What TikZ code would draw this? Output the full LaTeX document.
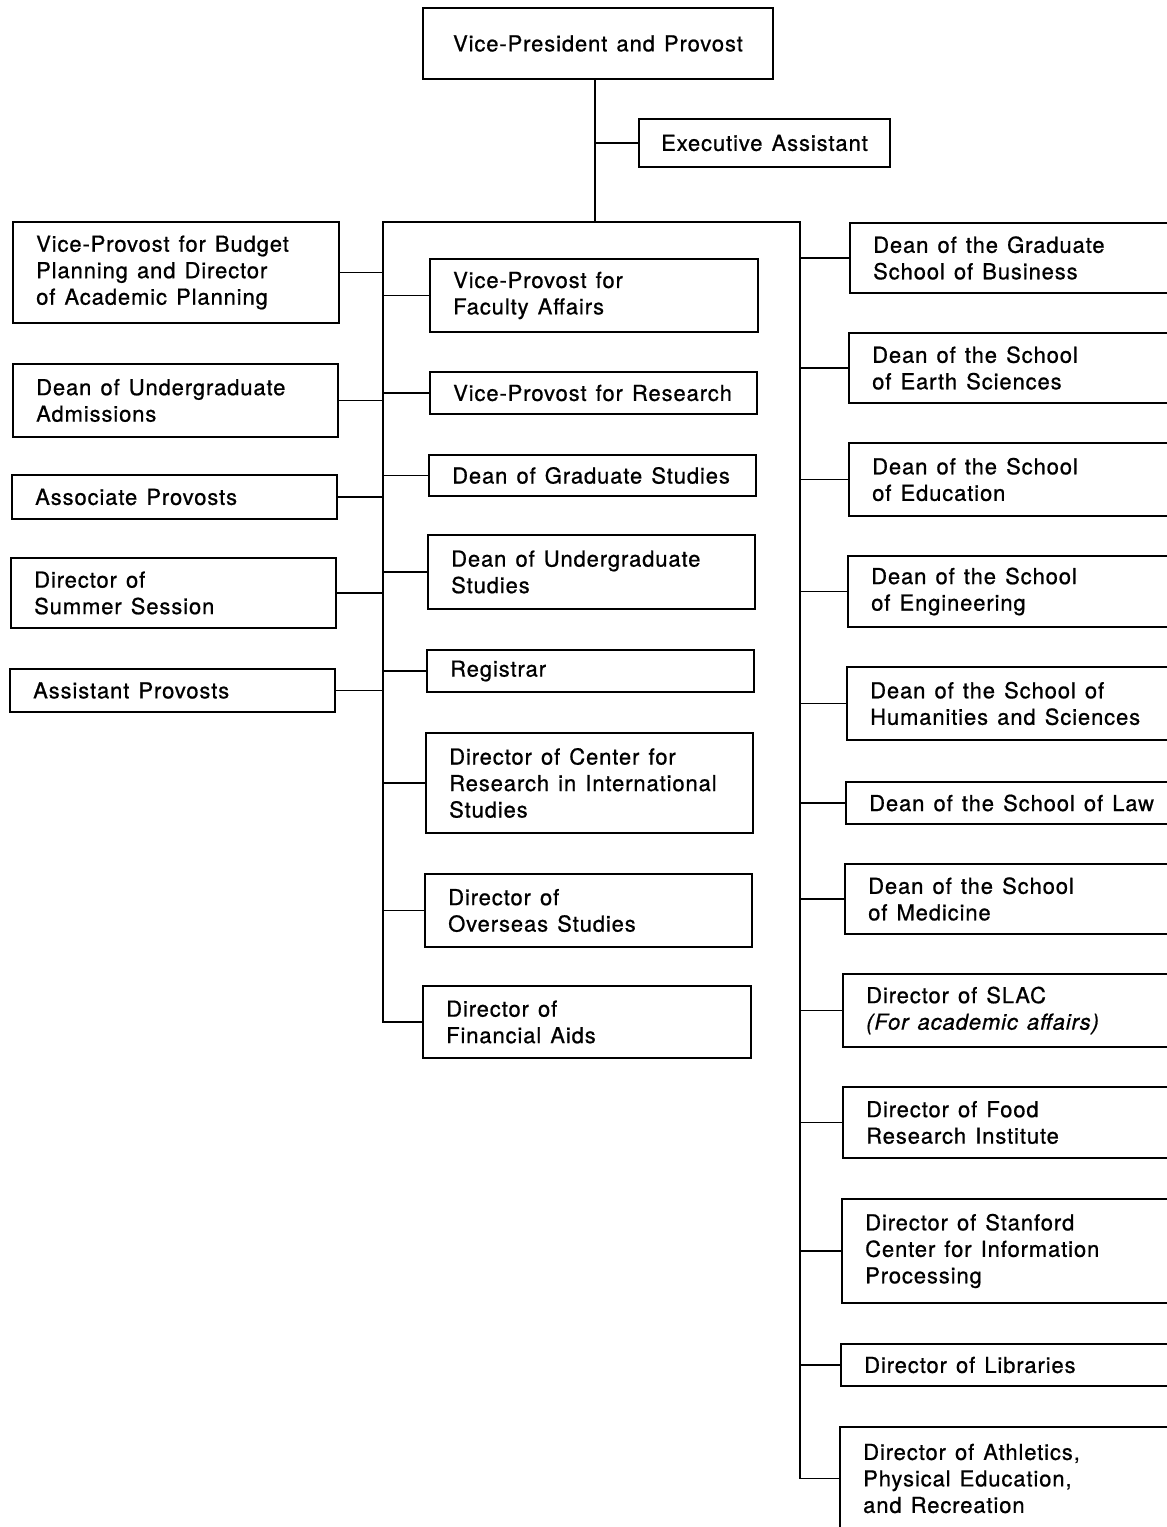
\documentclass[tikz,border=0pt]{standalone}
\usepackage{fontspec}
\setmainfont{TeX Gyre Heros}[LetterSpace=4, WordSpace=1.3, FakeBold=0.8]
\newcommand\orgbox[6]{%
  \node[box, minimum width={(#4-#2)*1pt}, minimum height={(#5-#3)*1pt}] (#1) at (#2,#3) {};
  \node[lbl] (#1-t) at ([xshift=23pt]#1.west) {#6};
}
\begin{document}
\begin{tikzpicture}[x=1pt,y=-1pt,
  box/.style={draw, line width=1.9pt, anchor=north west, inner sep=0pt, outer sep=0pt,
    font=\fontsize{22}{26.5}\selectfont},
  lbl/.style={anchor=west, align=left, inner sep=0pt, font=\fontsize{22}{26.5}\selectfont},
  conn/.style={line width=1.9pt, line join=miter}]
\clip (0,0) rectangle (1167,1527);
\fill[white] (0,0) rectangle (1167,1527);

% top
\node[box, minimum width=350pt, minimum height=71pt] (vp) at (423,8) {Vice-President and Provost};
\node[box, minimum width=251pt, minimum height=48pt] (ea) at (639,119) {Executive Assistant};

% left column
\orgbox{budget}{13}{222}{339}{323}{Vice-Provost for Budget\\Planning and Director\\of Academic Planning}
\orgbox{admis}{13}{364}{338}{437}{Dean of Undergraduate\\Admissions}
\orgbox{assoc}{12}{475}{337}{519}{Associate Provosts}
\orgbox{summer}{11}{558}{336}{628}{Director of\\Summer Session}
\orgbox{asst}{10}{669}{335}{712}{Assistant Provosts}

% centre column
\orgbox{faculty}{430}{259}{758}{332}{Vice-Provost for\\Faculty Affairs}
\orgbox{research}{430}{372}{757}{414}{Vice-Provost for Research}
\orgbox{gradst}{429}{455}{756}{496}{Dean of Graduate Studies}
\orgbox{ugst}{428}{535}{755}{609}{Dean of Undergraduate\\Studies}
\orgbox{registrar}{427}{650}{754}{692}{Registrar}
\orgbox{cris}{426}{733}{753}{833}{Director of Center for\\Research in International\\Studies}
\orgbox{overseas}{425}{874}{752}{947}{Director of\\Overseas Studies}
\orgbox{finaid}{423}{986}{751}{1058}{Director of\\Financial Aids}

% right column
\orgbox{gsb}{850}{223}{1200}{293}{Dean of the Graduate\\School of Business}
\orgbox{earth}{849}{333}{1200}{403}{Dean of the School\\of Earth Sciences}
\orgbox{educ}{849}{443}{1200}{516}{Dean of the School\\of Education}
\orgbox{engin}{848}{556}{1200}{627}{Dean of the School\\of Engineering}
\orgbox{human}{847}{667}{1200}{740}{Dean of the School of\\Humanities and Sciences}
\orgbox{law}{846}{782}{1200}{824}{Dean of the School of Law}
\orgbox{med}{845}{864}{1200}{934}{Dean of the School\\of Medicine}
\orgbox{slac}{843}{974}{1200}{1047}{Director of SLAC\\\textit{(For academic affairs)}}
\orgbox{food}{843}{1087}{1200}{1158}{Director of Food\\Research Institute}
\orgbox{sicp}{842}{1199}{1200}{1303}{Director of Stanford\\Center for Information\\Processing}
\orgbox{lib}{841}{1344}{1200}{1386}{Director of Libraries}
\orgbox{ath}{840}{1427}{1200}{1530}{Director of Athletics,\\Physical Education,\\and Recreation}

% connectors
\coordinate (jT) at (595,222);
\coordinate (jL) at (383,222);
\coordinate (jR) at (800,222);
\draw[conn] (vp.south -| jT) -- (jT);
\draw[conn] (jT |- ea.west) -- (ea.west);
\draw[conn] (finaid.west) -- (jL |- finaid.west) -- (jL) -- (jR) -- (jR |- ath.west) -- (ath.west);
\foreach \b in {budget,admis,assoc,summer,asst}
  \draw[conn] (\b.east) -- (\b.east -| jL);
\foreach \b in {faculty,research,gradst,ugst,registrar,cris,overseas}
  \draw[conn] (jL |- \b.west) -- (\b.west);
\foreach \b in {gsb,earth,educ,engin,human,law,med,slac,food,sicp,lib}
  \draw[conn] (jR |- \b.west) -- (\b.west);
\end{tikzpicture}
\end{document}
